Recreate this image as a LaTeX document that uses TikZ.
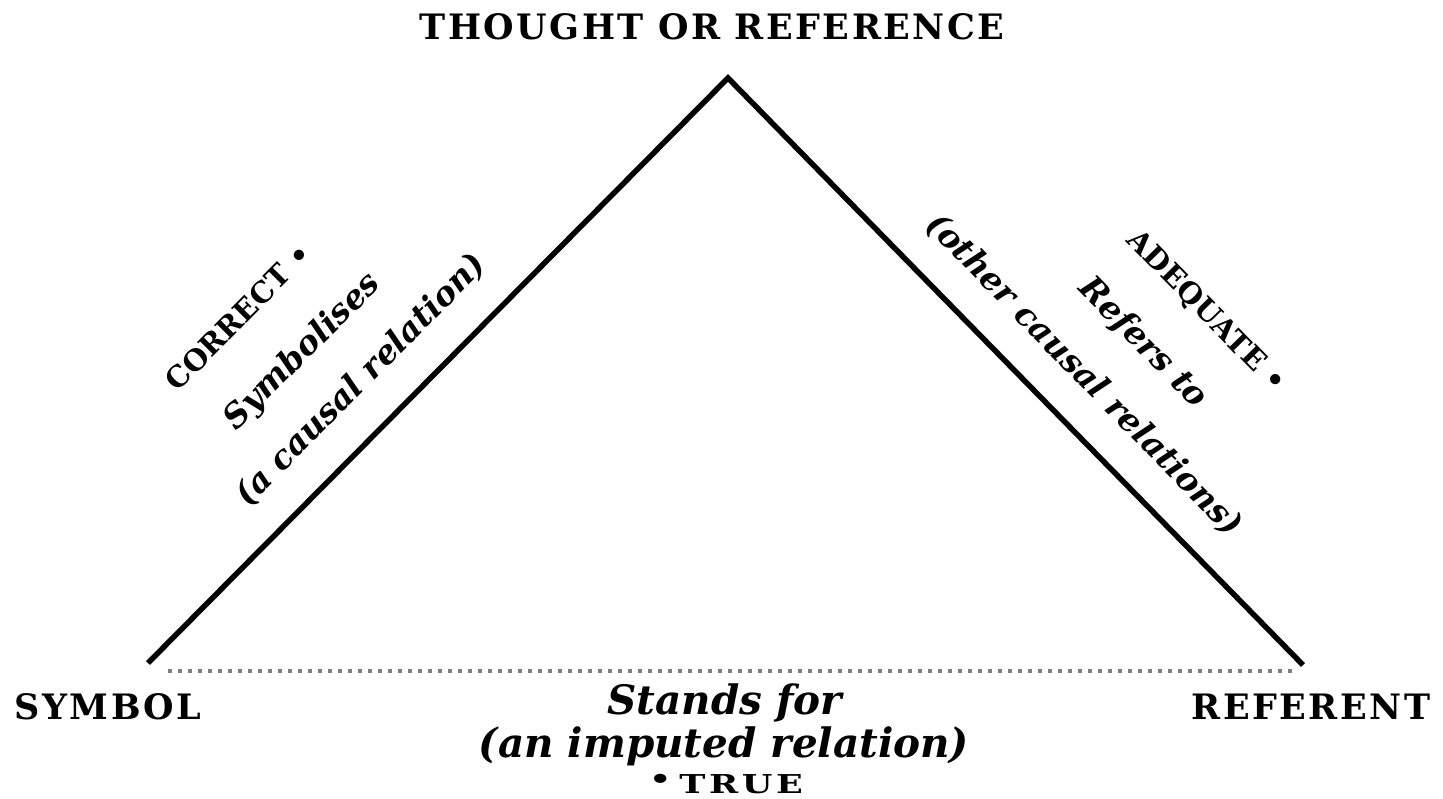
\documentclass[tikz,border=0pt]{standalone}
\usepackage{fontspec}
\newfontfamily\capsfont[LetterSpace=7]{DejaVu Serif}
\newfontfamily\slcapsfont{DejaVu Serif}
\newfontfamily\widecapsfont[LetterSpace=14,FakeStretch=1.35]{DejaVu Serif}
\newfontfamily\itfont{DejaVu Serif}
\begin{document}
\begin{tikzpicture}[x=1pt,y=-1pt,
  edge/.style={line width=5.5pt,line join=miter,line cap=butt},
  dots/.style={line width=3.5pt,dash pattern=on 4pt off 6pt,black!50},
  bigcaps/.style={inner sep=0pt,font=\capsfont\bfseries\fontsize{35}{40}\selectfont},
  rotcaps/.style={inner sep=0pt,font=\slcapsfont\bfseries\fontsize{29}{34}\selectfont},
  smallcaps/.style={inner sep=0pt,font=\widecapsfont\bfseries\fontsize{26}{30}\selectfont},
  rotit/.style={inner sep=0pt,font=\itfont\bfseries\itshape\fontsize{33}{38}\selectfont},
  botit/.style={inner sep=0pt,font=\itfont\bfseries\itshape\fontsize{40.5}{44}\selectfont}]
\useasboundingbox (0,0) rectangle (1443,798);
\coordinate (apex) at (728,78);
\coordinate (sym) at (148,663);
\coordinate (ref) at (1303,665);
\coordinate (dl) at (168,671);
\coordinate (dr) at (1292,671);
\draw[edge] (sym) -- (apex) -- (ref);
\draw[dots] (dl) -- (dr);
\node[bigcaps] (top) at (712,27) {THOUGHT OR REFERENCE};
\node[bigcaps] (symbol) at (108,707) {SYMBOL};
\node[bigcaps] (referent) at (1311,707) {REFERENT};
\node[rotcaps,rotate=45.2] (correct) at (238,317) {CORRECT \textbullet};
\node[rotit,rotate=45.2] (symb) at (303,352) {Symbolises};
\node[rotit,rotate=45.2] (causal) at (361,380) {(a causal relation)};
\node[rotcaps,rotate=-45.6] (adequate) at (1206,312) {ADEQUATE \textbullet};
\node[rotit,rotate=-45.6] (refers) at (1143,343) {Refers to};
\node[rotit,rotate=-45.6] (other) at (1084,375) {(other causal relations)};
\node[botit] (stands) at (725,703) {Stands for};
\node[botit] (imputed) at (724,746) {(an imputed relation)};
\node[smallcaps] (true) at (726,784) {\raisebox{0.35ex}{\textbullet}\hspace{8pt}TRUE};
\end{tikzpicture}
\end{document}
